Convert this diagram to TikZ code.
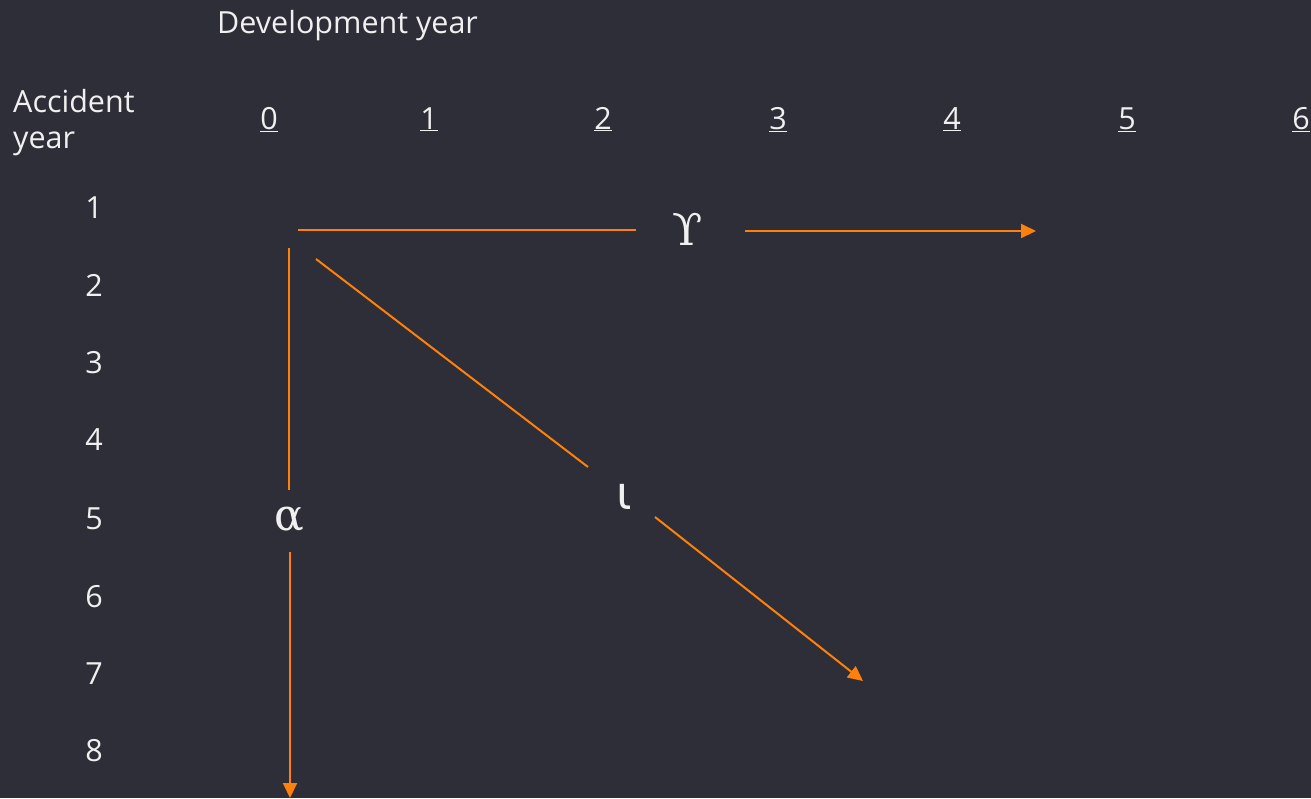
\documentclass[tikz,border=0pt]{standalone}
\usepackage{fontspec}
\setmainfont{Open Sans}
\newfontfamily\grk{DejaVu Serif}
\newfontfamily\grks{DejaVu Sans}
\usetikzlibrary{arrows.meta}
\definecolor{bg}{HTML}{2E2E38}
\definecolor{org}{HTML}{FF800A}
\definecolor{txt}{HTML}{F0F0F0}
\begin{document}
\begin{tikzpicture}[x=1pt,y=-1pt,
  lbl/.style={text=txt,font=\fontsize{30.5}{36}\selectfont,inner sep=0pt},
  col/.style={lbl,anchor=base},
  grkl/.style={text=txt,font=\grk\fontsize{44}{46}\selectfont,inner sep=0pt},
  ln/.style={draw=org,line width=2pt},
  arr/.style={ln,-{Triangle[length=15pt,width=14pt]}}]
\fill[bg] (0,0) rectangle (1311,798);
\useasboundingbox (0,0) rectangle (1311,798);
\node[lbl,anchor=base west] (dev) at (217,33) {Development year};
\node[lbl,anchor=base west] (acc) at (13,112) {Accident};
\node[lbl,anchor=base west] (acc2) at (13,148) {year};
\foreach \n/\x in {0/269,1/429,2/603,3/778,4/952,5/1127,6/1301}
  \node[col] (c\n) at (\x,129) {\underline{\n}};
\foreach \n/\y in {1/207,2/285,3/362,4/439,5/518,6/596,7/673,8/750}
  \node[lbl,anchor=base] (r\n) at (94,\y+11) {\n};
\node[grkl] (g) at (688,229) {ϒ};
\node[grkl] (a) at (289,519) {α};
\node[text=txt,font=\grks\fontsize{46}{48}\selectfont,inner sep=0pt] (i) at (624,497) {ι};
\coordinate (g0) at (298,230);
\coordinate (g1) at (636,230);
\coordinate (g2) at (745,231);
\coordinate (g3) at (1036,231);
\coordinate (a0) at (289,248);
\coordinate (a1) at (289,490);
\coordinate (a2) at (290,552);
\coordinate (a3) at (290,798);
\coordinate (i0) at (316,259);
\coordinate (i1) at (588,467);
\coordinate (i2) at (655,517);
\coordinate (i3) at (863,681);
\draw[ln] (g0) -- (g1);
\draw[arr] (g2) -- (g3);
\draw[ln] (a0) -- (a1);
\draw[arr] (a2) -- (a3);
\draw[ln] (i0) -- (i1);
\draw[arr] (i2) -- (i3);
\end{tikzpicture}
\end{document}
